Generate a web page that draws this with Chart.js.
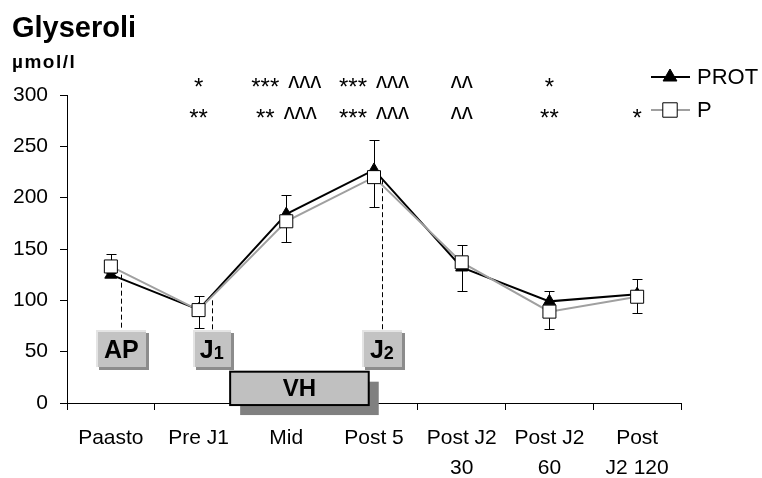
<!DOCTYPE html>
<html>
<head>
<meta charset="utf-8">
<script src="https://cdn.jsdelivr.net/npm/chart.js@4.4.1/dist/chart.umd.min.js"></script>
<style>
  body { margin: 0; background: #fff; }
</style>
</head>
<body>
<canvas id="chart" width="762" height="478"></canvas>
<script>
// values
const categories = ['Paasto', 'Pre J1', 'Mid', 'Post 5', ['Post J2', '30'], ['Post J2', '60'], ['Post', 'J2 120']];
const protValues = [125, 91, 184, 227, 132, 99, 106];
const pValues = [133, 90.5, 177, 220, 137, 89, 103.5];
const protErrUp = [20, 13.5, 18.5, 29, 22, 10.5, 15];
const pErrDown = [6, 17, 20.5, 29.5, 28, 17, 15.5];
const sigRow1 = ['', '*', '*** ʌʌʌ', '*** ʌʌʌ', 'ʌʌ', '*', ''];
const sigRow2 = ['', '**', '** ʌʌʌ', '*** ʌʌʌ', 'ʌʌ', '**', '*'];

const FONT = '"Liberation Sans", Arial, "DejaVu Sans", sans-serif';

// boxes under the curve (x in category index, y in axis units)
const markers = [
  {text: 'AP', sub: '', x: 0.12, w: 50, lineFrom: 125},
  {text: 'J', sub: '1', x: 1.15, w: 38, lineFrom: 100},
  {text: 'J', sub: '2', x: 3.09, w: 40, lineFrom: 217}
];

function bevelBox(ctx, x, y, w, h) {
  ctx.fillStyle = '#8c8c8c';
  ctx.fillRect(x + 3, y + 3, w, h);
  ctx.fillStyle = '#c3c3c3';
  ctx.fillRect(x, y, w, h);
  ctx.fillStyle = '#e4e4e4';
  ctx.fillRect(x, y, w, 2);
  ctx.fillRect(x, y, 2, h);
}

// stars and carets are drawn a bit differently so they line up like the original
function drawSig(ctx, str, cx, cy) {
  if (!str) return;
  const parts = str.split(' ');
  const fonts = parts.map(p => p[0] === '*' ? '24px ' + FONT : '22px ' + FONT);
  const widths = parts.map((p, i) => { ctx.font = fonts[i]; return ctx.measureText(p).width; });
  const gap = 9;
  let total = widths.reduce((a, b) => a + b, 0) + gap * (parts.length - 1);
  let px = cx - total / 2;
  ctx.textAlign = 'left';
  ctx.textBaseline = 'alphabetic';
  parts.forEach((p, i) => {
    ctx.font = fonts[i];
    if (p[0] === '*') ctx.fillText(p, px, cy + 14);
    else ctx.fillText(p, px, cy + 7);
    px += widths[i] + gap;
  });
}

const extras = {
  id: 'extras',
  beforeDatasetsDraw(chart) {
    const {ctx, scales: {x, y}} = chart;
    ctx.save();
    ctx.strokeStyle = '#000';
    ctx.lineWidth = 1;
    // dashed drop lines
    ctx.setLineDash([5, 3]);
    markers.forEach(m => {
      const px = Math.round(x.getPixelForValue(m.x)) + 0.5;
      ctx.beginPath();
      ctx.moveTo(px, y.getPixelForValue(m.lineFrom));
      ctx.lineTo(px, y.getPixelForValue(71));
      ctx.stroke();
    });
    ctx.setLineDash([]);
    // error bars: PROT up, P down
    const cap = 5;
    categories.forEach((c, i) => {
      const px = Math.round(x.getPixelForValue(i)) + 0.5;
      const y1 = Math.round(y.getPixelForValue(protValues[i] + protErrUp[i])) + 0.5;
      const y0 = y.getPixelForValue(protValues[i]);
      ctx.beginPath();
      ctx.moveTo(px, y0); ctx.lineTo(px, y1);
      ctx.moveTo(px - cap, y1); ctx.lineTo(px + cap, y1);
      const y2 = Math.round(y.getPixelForValue(pValues[i] - pErrDown[i])) + 0.5;
      const y3 = y.getPixelForValue(pValues[i]);
      ctx.moveTo(px, y3); ctx.lineTo(px, y2);
      ctx.moveTo(px - cap, y2); ctx.lineTo(px + cap, y2);
      ctx.stroke();
    });
    ctx.restore();
  },
  afterDraw(chart) {
    const {ctx, scales: {x, y}} = chart;
    ctx.save();
    // title
    ctx.fillStyle = '#000';
    ctx.textBaseline = 'alphabetic';
    ctx.textAlign = 'left';
    ctx.font = 'bold 29px ' + FONT;
    ctx.fillText('Glyseroli', 12, 37);
    ctx.font = 'bold 19px ' + FONT;
    ctx.letterSpacing = '1.5px';
    ctx.fillText('µmol/l', 12, 68);
    ctx.letterSpacing = '0px';

    // significance rows
    categories.forEach((c, i) => {
      const px = x.getPixelForValue(i);
      drawSig(ctx, sigRow1[i], px, 81);
      drawSig(ctx, sigRow2[i], px, 112);
    });

    // legend
    const ds = chart.data.datasets;
    const legendRows = [ds[1], ds[0]];
    legendRows.forEach((d, k) => {
      const ly = 77 + k * 33;
      ctx.strokeStyle = d.borderColor;
      ctx.lineWidth = 2;
      ctx.beginPath();
      ctx.moveTo(651, ly); ctx.lineTo(690, ly);
      ctx.stroke();
      ctx.fillStyle = d.pointBackgroundColor;
      ctx.strokeStyle = d.pointBorderColor;
      ctx.lineWidth = 1;
      Chart.helpers.drawPoint(ctx, {pointStyle: d.pointStyle, radius: d.pointRadius + 1, borderWidth: 1}, 670, ly);
      ctx.fillStyle = '#000';
      ctx.textAlign = 'left';
      ctx.textBaseline = 'middle';
      ctx.font = '22px ' + FONT;
      ctx.fillText(d.label, 697, ly + 1);
    });

    // marker boxes
    const top = y.getPixelForValue(71), bottom = y.getPixelForValue(35);
    markers.forEach(m => {
      const cx = x.getPixelForValue(m.x);
      bevelBox(ctx, Math.round(cx - m.w / 2), Math.round(top), m.w, Math.round(bottom - top));
      ctx.fillStyle = '#000';
      ctx.textBaseline = 'alphabetic';
      ctx.font = 'bold 25px ' + FONT;
      const tw = ctx.measureText(m.text).width;
      ctx.font = 'bold 18px ' + FONT;
      const sw = m.sub ? ctx.measureText(m.sub).width : 0;
      const sx = cx - (tw + sw) / 2;
      const base = (top + bottom) / 2 + 9;
      ctx.font = 'bold 25px ' + FONT;
      ctx.textAlign = 'left';
      ctx.fillText(m.text, sx, base);
      if (m.sub) {
        ctx.font = 'bold 18px ' + FONT;
        ctx.fillText(m.sub, sx + tw, base + 1);
      }
    });

    // VH bar
    const vx0 = x.getPixelForValue(1.36), vx1 = x.getPixelForValue(2.94);
    const vy0 = y.getPixelForValue(30.5), vy1 = y.getPixelForValue(-2);
    ctx.fillStyle = '#808080';
    ctx.fillRect(vx0 + 10, vy0 + 10, vx1 - vx0, vy1 - vy0);
    ctx.fillStyle = '#c0c0c0';
    ctx.fillRect(vx0, vy0, vx1 - vx0, vy1 - vy0);
    ctx.strokeStyle = '#000';
    ctx.lineWidth = 2;
    ctx.strokeRect(vx0, vy0, vx1 - vx0, vy1 - vy0);
    ctx.fillStyle = '#000';
    ctx.textAlign = 'center';
    ctx.textBaseline = 'middle';
    ctx.font = 'bold 24px ' + FONT;
    ctx.fillText('VH', (vx0 + vx1) / 2, (vy0 + vy1) / 2 + 1);
    ctx.restore();
  }
};

new Chart(document.getElementById('chart'), {
  type: 'line',
  data: {
    labels: categories,
    datasets: [
      {
        label: 'P', data: pValues, order: 0,
        borderColor: '#a0a0a0', borderWidth: 2,
        pointStyle: 'rect', pointRadius: 9.2,
        pointBackgroundColor: '#fff', pointBorderColor: '#000', pointBorderWidth: 1
      },
      {
        label: 'PROT', data: protValues, order: 1,
        borderColor: '#000', borderWidth: 2,
        pointStyle: 'triangle', pointRadius: 7,
        pointBackgroundColor: '#000', pointBorderColor: '#000', pointBorderWidth: 1
      }
    ]
  },
  options: {
    responsive: false,
    animation: false,
    layout: {padding: {top: 95, right: 81, left: 0, bottom: 0}},
    plugins: {legend: {display: false}, tooltip: {enabled: false}},
    scales: {
      x: {
        offset: true,
        grid: {offset: true, drawOnChartArea: false, color: '#000', tickLength: 7},
        border: {color: '#000', width: 1},
        ticks: {
          color: '#000', maxRotation: 0, autoSkip: false, padding: 13,
          font: {family: FONT, size: 21, lineHeight: 1.45}
        },
        afterFit: s => { s.height = 75; }
      },
      y: {
        min: 0, max: 300,
        grid: {drawOnChartArea: false, color: '#000', tickLength: 7},
        border: {color: '#000', width: 1},
        ticks: {
          stepSize: 50, color: '#000', padding: 12,
          font: {family: FONT, size: 21}
        },
        afterFit: s => { s.width = 67; }
      }
    }
  },
  plugins: [extras]
});
</script>
</body>
</html>
